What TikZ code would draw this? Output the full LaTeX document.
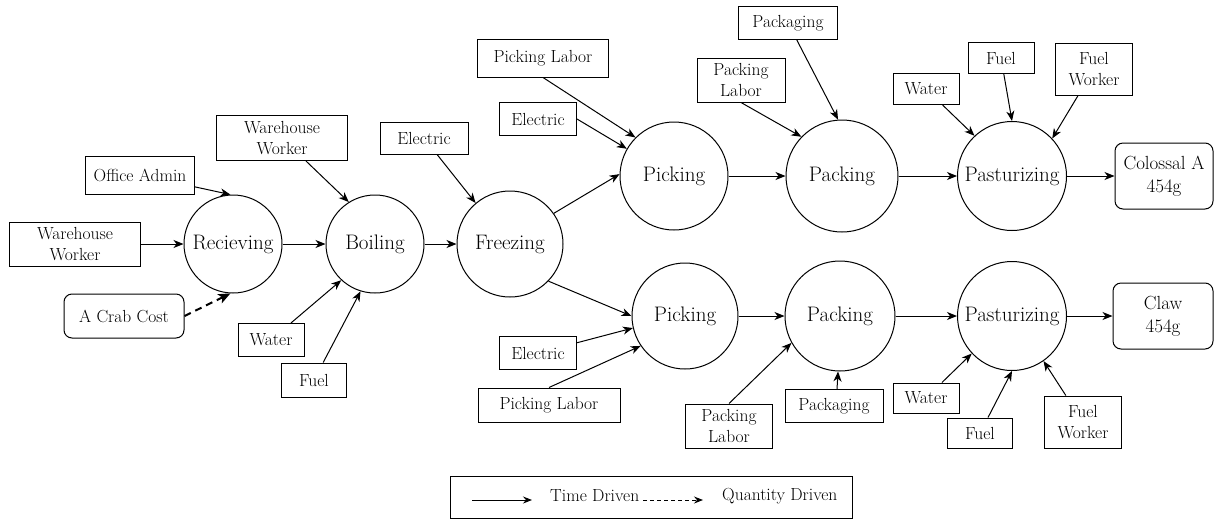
\documentclass[tikz,border=0pt]{standalone}
\usepackage{fontspec}
\usetikzlibrary{arrows.meta}
\begin{document}
\begin{tikzpicture}[x=1pt,y=-1pt,
 proc/.style={circle,draw,line width=1pt,inner sep=0pt,font=\fontsize{21}{24}\selectfont},
 res/.style={draw,line width=1pt,inner sep=0pt,align=center,font=\fontsize{17.5}{21.5}\selectfont},
 prod/.style={res,rounded corners=8pt,font=\fontsize{19}{23}\selectfont},
 arr/.style={line width=1pt,-{Stealth[length=10pt,width=8pt,inset=3pt]}},
 qarr/.style={line width=2pt,dash pattern=on 7pt off 5pt,-{Stealth[length=12pt,width=10pt,inset=3pt]}},
 larr/.style={line width=1pt,-{Stealth[length=9pt,width=7pt,inset=3pt]}},
 legtext/.style={inner sep=0pt,anchor=west,font=\fontsize{17.5}{21}\selectfont}]
\useasboundingbox (0,0) rectangle (1215,520);

% left part
\node[res,minimum width=109pt,minimum height=38pt] (oa) at (140,175) {Office Admin};
\node[res,minimum width=131pt,minimum height=44pt] (ww1) at (75,244) {Warehouse\\Worker};
\node[prod,font=\fontsize{17.5}{21.5}\selectfont,minimum width=120pt,minimum height=44pt] (crab) at (124,316) {A Crab Cost};
\node[proc,minimum size=98pt] (rec) at (233,244) {Recieving};
\node[res,minimum width=131pt,minimum height=45pt] (ww2) at (282,138) {Warehouse\\Worker};
\node[res,minimum width=66pt,minimum height=33pt] (wa1) at (271,340) {Water};
\node[res,minimum width=65pt,minimum height=34pt] (fu1) at (314,380) {Fuel};
\node[proc,minimum size=98pt] (boil) at (375,244) {Boiling};
\node[res,minimum width=88pt,minimum height=32pt] (el1) at (424,138) {Electric};
\node[proc,minimum size=106pt] (frz) at (510,244) {Freezing};

% top row
\node[res,minimum width=131pt,minimum height=38pt] (pl1) at (543,58) {Picking Labor};
\node[res,minimum width=77pt,minimum height=33pt] (el2) at (538,119) {Electric};
\node[proc,minimum size=108pt] (pk1) at (674,176) {Picking};
\node[res,minimum width=99pt,minimum height=33pt] (pg1) at (788,23) {Packaging};
\node[res,minimum width=88pt,minimum height=44pt] (pal1) at (741,80) {Packing\\Labor};
\node[proc,minimum size=112pt] (pa1) at (842,176) {Packing};
\node[res,minimum width=66pt,minimum height=31pt] (wa2) at (926,89) {Water};
\node[res,minimum width=66pt,minimum height=31pt] (fu2) at (1001,58) {Fuel};
\node[res,minimum width=77pt,minimum height=52pt] (fw1) at (1094,69) {Fuel\\Worker};
\node[proc,minimum size=109pt] (pz1) at (1012,176) {Pasturizing};
\node[prod,minimum width=98pt,minimum height=66pt] (col) at (1164,176) {Colossal A\\454g};

% bottom row
\node[res,minimum width=77pt,minimum height=33pt] (el3) at (538,353) {Electric};
\node[res,minimum width=142pt,minimum height=34pt] (pl2) at (549,405) {Picking Labor};
\node[proc,minimum size=106pt] (pk2) at (685,316) {Picking};
\node[res,minimum width=87pt,minimum height=44pt] (pal2) at (729,426) {Packing\\Labor};
\node[res,minimum width=98pt,minimum height=33pt] (pg2) at (834,406) {Packaging};
\node[proc,minimum size=110pt] (pa2) at (840,316) {Packing};
\node[res,minimum width=66pt,minimum height=30pt] (wa3) at (926,398) {Water};
\node[res,minimum width=65pt,minimum height=30pt] (fu3) at (980,433) {Fuel};
\node[res,minimum width=77pt,minimum height=52pt] (fw2) at (1083,422) {Fuel\\Worker};
\node[proc,minimum size=109pt] (pz2) at (1012,316) {Pasturizing};
\node[prod,minimum width=100pt,minimum height=66pt] (claw) at (1163,316) {Claw\\454g};

% connectors left
\draw[arr] (oa) -- (rec.93);
\draw[arr] (ww1) -- (rec);
\draw[qarr] (crab.east) -- (rec.267);
\draw[arr] (rec) -- (boil);
\draw[arr] (ww2) -- (boil.122);
\draw[arr] (wa1) -- (boil.227);
\draw[arr] (fu1) -- (boil.253);
\draw[arr] (boil) -- (frz);
\draw[arr] (el1) -- (frz.130);

% connectors top
\draw[arr] (frz.35) -- (pk1.178);
\draw[arr] (el2.east) -- (pk1.150);
\draw[arr] (pl1.south) -- (pk1.135);
\draw[arr] (pk1) -- (pa1);
\draw[arr] (pal1.south) -- (pa1.136);
\draw[arr] (pg1) -- (pa1.94);
\draw[arr] (pa1) -- (pz1);
\draw[arr] (wa2) -- (pz1.133);
\draw[arr] (fu2) -- (pz1.90);
\draw[arr] (fw1) -- (pz1.43);
\draw[arr] (pz1) -- (col);

% connectors bottom
\draw[arr] (frz.-44) -- (pk2.180);
\draw[arr] (el3) -- (pk2.193);
\draw[arr] (pl2.north) -- (pk2.214);
\draw[arr] (pk2) -- (pa2);
\draw[arr] (pal2.north) -- (pa2.209);
\draw[arr] ([xshift=3pt]pg2.north) -- (pa2.268);
\draw[arr] (pa2) -- (pz2);
\draw[arr] (wa3) -- (pz2.223);
\draw[arr] (fu3) -- (pz2.270);
\draw[arr] (fw2) -- (pz2.305);
\draw[arr] (pz2) -- (claw);

% legend
\node[draw,line width=1pt,minimum width=402pt,minimum height=42pt,inner sep=0pt] (leg) at (651,497.5) {};
\coordinate (t1) at (472,500);
\coordinate (t2) at (532,500);
\draw[larr] (t1) -- (t2);
\node[legtext] (td) at (550,496) {Time Driven};
\coordinate (q1) at (643,500);
\coordinate (q2) at (703,500);
\draw[larr,dash pattern=on 4pt off 3pt] (q1) -- (q2);
\node[legtext] (qd) at (722,496) {Quantity Driven};
\end{tikzpicture}
\end{document}
